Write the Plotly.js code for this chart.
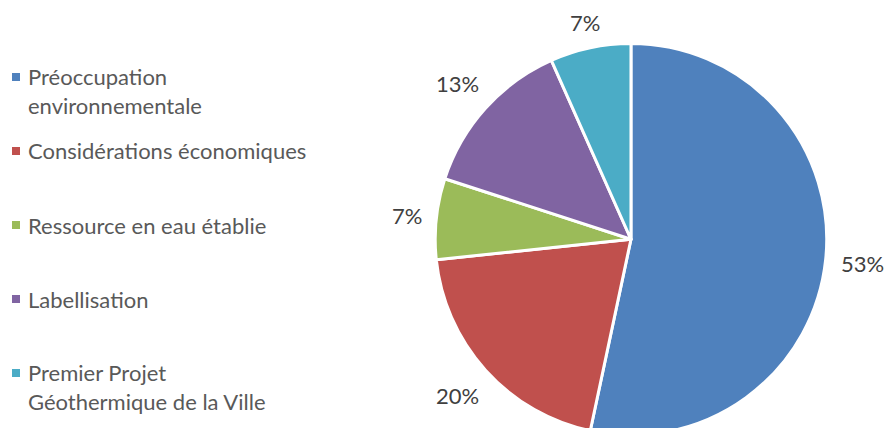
<!DOCTYPE html>
<html>
<head>
<meta charset="utf-8">
<script src="https://cdn.plot.ly/plotly-3.0.1.min.js"></script>
<style>html,body{margin:0;padding:0;background:#fff;overflow:hidden;}#chart{width:886px;height:435px;}</style>
</head>
<body>
<div id="chart"></div>
<script>
// Data
const categories = [
  "Préoccupation<br>environnementale",
  "Considérations économiques",
  "Ressource en eau établie",
  "Labellisation",
  "Premier Projet<br>Géothermique de la Ville"
];
const values = [8, 3, 1, 2, 1];
const pctLabels = ["53%", "20%", "7%", "13%", "7%"];
const colors = ["#4F81BD", "#C0504D", "#9BBB59", "#8064A2", "#4BACC6"];

const W = 886, H = 435;
const FONT = "Lato, 'Open Sans', sans-serif";
const FS = 22;
const domX = [0.4898, 0.9345];
const domY = [0, 0.9];

// pie geometry (pixels), derived from domain for label placement
const cx = (domX[0] + domX[1]) / 2 * W;
const hPix = (domY[1] - domY[0]) * H;
const r = Math.min((domX[1] - domX[0]) * W, hPix) / 2 - 4;
const cy = H - (domY[0] + domY[1]) / 2 * H;

const total = values.reduce((a, b) => a + b, 0);
const annotations = [];
const shapes = [];
let cum = 0;
values.forEach((v, i) => {
  const mid = (cum + v / 2) / total * 2 * Math.PI;
  cum += v;
  const s = Math.sin(mid), c = Math.cos(mid);
  const halfW = pctLabels[i].length * 0.37 * FS;
  const halfH = 0.5 * FS;
  const d = r + 16 + Math.abs(s) * halfW + Math.abs(c) * halfH;
  const px = cx + d * s;
  const py = cy - d * c;
  annotations.push({
    x: px / W, y: 1 - py / H, xref: "paper", yref: "paper",
    text: pctLabels[i], showarrow: false, xanchor: "center", yanchor: "middle",
    font: {family: FONT, size: FS, color: "#404040"}
  });
});

// legend (custom, left side)
const legTop = 77, legStep = 74, lineH = FS * 1.3;
categories.forEach((c, i) => {
  const nLines = c.split("<br>").length;
  const y0 = legTop + i * legStep;
  const yMid = y0 + (nLines - 1) * lineH / 2;
  annotations.push({
    x: 26 / W, y: 1 - yMid / H, xref: "paper", yref: "paper",
    text: c, showarrow: false, xanchor: "left", yanchor: "middle", align: "left",
    font: {family: FONT, size: FS, color: "#595959"}
  });
  shapes.push({
    type: "rect", xref: "paper", yref: "paper",
    x0: 12 / W, x1: 20 / W, y0: 1 - (y0 + 4) / H, y1: 1 - (y0 - 4) / H,
    fillcolor: colors[i], line: {width: 0}
  });
});

const trace = {
  type: "pie",
  labels: categories,
  values: values,
  sort: false,
  direction: "clockwise",
  rotation: 0,
  textinfo: "none",
  hoverinfo: "label+percent",
  marker: {colors: colors, line: {color: "#ffffff", width: 3}},
  domain: {x: domX, y: domY},
  showlegend: false
};

Plotly.newPlot("chart", [trace], {
  width: W, height: H,
  margin: {l: 0, r: 0, t: 0, b: 0},
  paper_bgcolor: "#ffffff",
  showlegend: false,
  annotations: annotations,
  shapes: shapes,
  font: {family: FONT}
}, {displayModeBar: false, staticPlot: true});
</script>
</body>
</html>
